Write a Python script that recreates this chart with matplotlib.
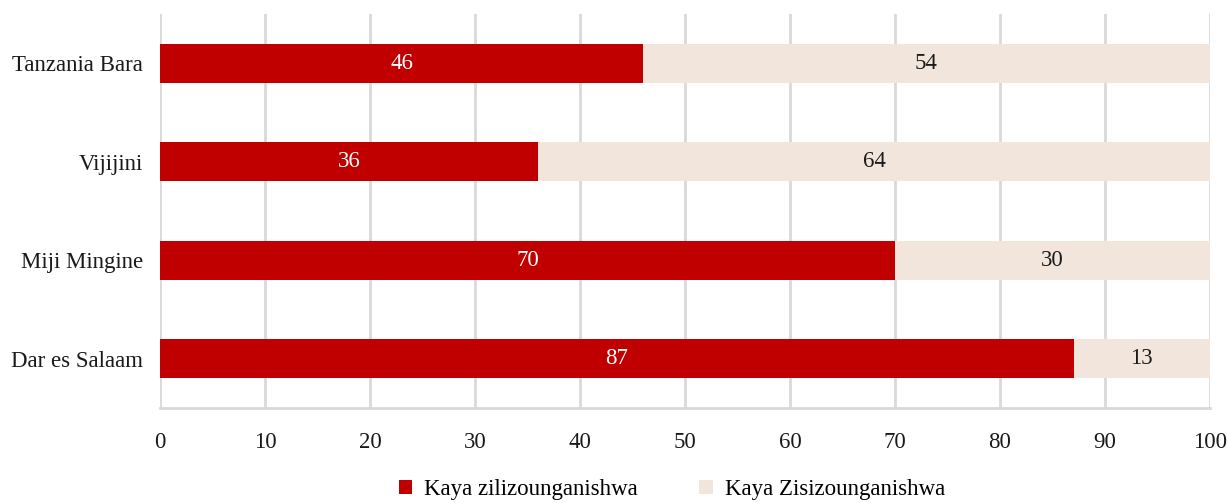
import matplotlib.pyplot as plt
import numpy as np

plt.rcParams['font.family'] = ['Liberation Serif', 'DejaVu Serif']

categories = ["Tanzania Bara", "Vijijini", "Miji Mingine", "Dar es Salaam"]
connected = [46, 36, 70, 87]
not_connected = [54, 64, 30, 13]
series_names = ["Kaya zilizounganishwa", "Kaya Zisizounganishwa"]

RED = "#c00000"
BEIGE = "#f2e6dc"
GRID = "#d9d9d9"
FS = 16.5

fig = plt.figure(figsize=(12.28, 5.03), dpi=100)
ax = fig.add_axes([160 / 1228, 1 - 408 / 503, 1050 / 1228, 394 / 503])

y = np.arange(len(categories))
b1 = ax.barh(y, connected, height=0.4, color=RED, label=series_names[0], zorder=3)
b2 = ax.barh(y, not_connected, left=connected, height=0.4, color=BEIGE,
             label=series_names[1], zorder=3)

for bar, v in zip(b1, connected):
    ax.text(bar.get_x() + bar.get_width() / 2, bar.get_y() + bar.get_height() / 2,
            str(v), ha="center", va="center", color="white", fontsize=FS, zorder=4)
for bar, v in zip(b2, not_connected):
    ax.text(bar.get_x() + bar.get_width() / 2, bar.get_y() + bar.get_height() / 2,
            str(v), ha="center", va="center", color="#1a1a1a", fontsize=FS, zorder=4)

ax.set_xlim(0, 100)
ax.set_ylim(len(categories) - 0.5, -0.5)
ax.set_xticks(np.arange(0, 101, 10))
ax.set_yticks(y)
ax.set_yticklabels(categories)
ax.tick_params(axis="both", length=0, labelsize=FS, colors="#1a1a1a")
ax.tick_params(axis="x", pad=17)
ax.tick_params(axis="y", pad=12)

ax.grid(axis="x", color=GRID, linewidth=2, zorder=0)
for side in ["top", "right", "left"]:
    ax.spines[side].set_visible(False)
ax.spines["bottom"].set_color(GRID)
ax.spines["bottom"].set_linewidth(2)

leg = fig.legend(handles=[b1, b2], labels=series_names, loc="lower center",
                 bbox_to_anchor=(0.547, -0.035), ncol=2, frameon=False,
                 fontsize=FS, handlelength=0.6, handleheight=0.6,
                 handletextpad=0.5, columnspacing=2.7)

fig.savefig("out.png", dpi=100)
